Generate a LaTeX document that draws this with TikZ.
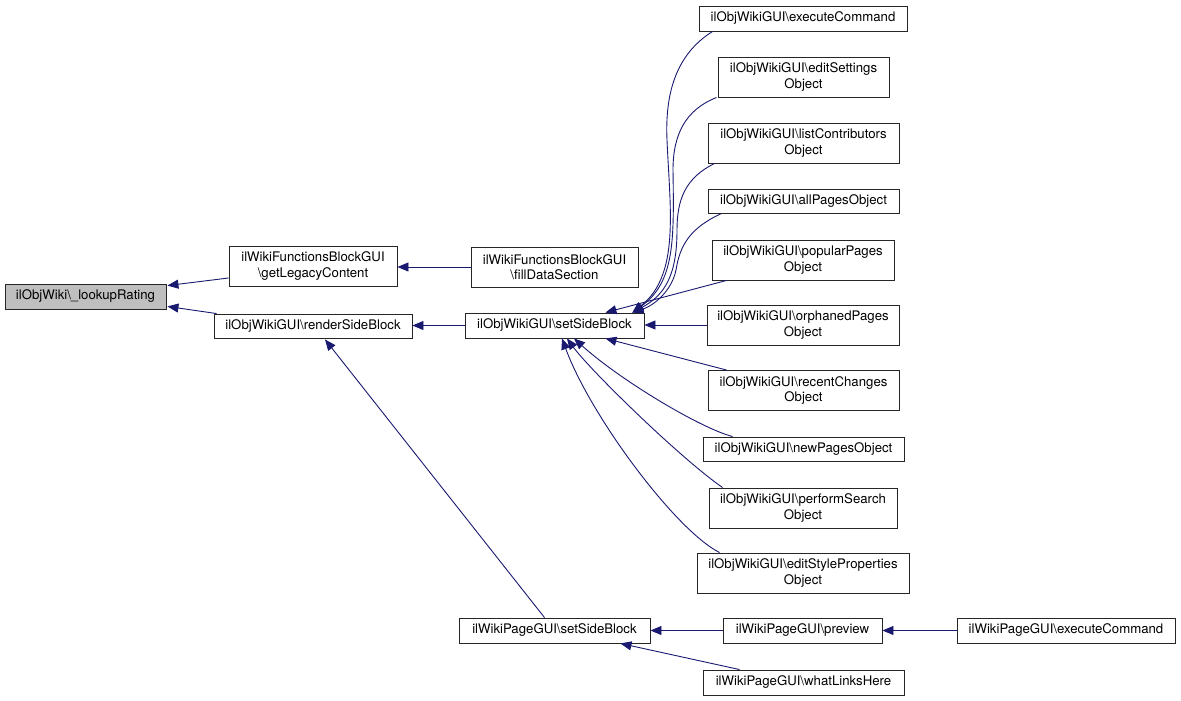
\documentclass[tikz,border=0pt]{standalone}
\usepackage{fontspec}
\setmainfont{TeX Gyre Heros}
\usetikzlibrary{arrows.meta,calc}
\definecolor{edgeblue}{HTML}{191970}
\definecolor{hilite}{HTML}{BFBFBF}
\tikzset{
  box/.style={draw=black!85, line width=0.9pt, fill=white, inner sep=0pt, align=center,
    font=\fontsize{13.2}{15.5}\selectfont},
  cur/.style={box, fill=hilite},
  call/.style={draw=edgeblue, line width=0.9pt, -{Triangle[length=11pt,width=9pt]}},
}
\newcommand{\bs}{\textbackslash}
\begin{document}
\begin{tikzpicture}[x=1pt,y=-1pt]
\useasboundingbox (0,0) rectangle (1181,701);
% nodes
\node[cur, minimum width=161, minimum height=25] (lookup) at (85.5,296.5) {ilObjWiki\bs\_lookupRating};
\node[box, minimum width=168, minimum height=40] (legacy) at (313,266) {ilWikiFunctionsBlockGUI\\\bs getLegacyContent};
\node[box, minimum width=198, minimum height=24] (render) at (313,326) {ilObjWikiGUI\bs renderSideBlock};
\node[box, minimum width=167, minimum height=40] (filldata) at (554.5,267) {ilWikiFunctionsBlockGUI\\\bs fillDataSection};
\node[box, minimum width=179, minimum height=25] (setside) at (554.5,325.5) {ilObjWikiGUI\bs setSideBlock};
\node[box, minimum width=208, minimum height=25] (oexec) at (803,18.5) {ilObjWikiGUI\bs executeCommand};
\node[box, minimum width=171, minimum height=40] (editset) at (803.5,77) {ilObjWikiGUI\bs editSettings\\Object};
\node[box, minimum width=191, minimum height=40] (listcon) at (803.5,143) {ilObjWikiGUI\bs listContributors\\Object};
\node[box, minimum width=191, minimum height=24] (allpages) at (803.5,201) {ilObjWikiGUI\bs allPagesObject};
\node[box, minimum width=182, minimum height=40] (popular) at (803,260) {ilObjWikiGUI\bs popularPages\\Object};
\node[box, minimum width=192, minimum height=40] (orphan) at (803,325) {ilObjWikiGUI\bs orphanedPages\\Object};
\node[box, minimum width=191, minimum height=40] (recent) at (803.5,390.5) {ilObjWikiGUI\bs recentChanges\\Object};
\node[box, minimum width=201, minimum height=24] (newpages) at (803.5,449) {ilObjWikiGUI\bs newPagesObject};
\node[box, minimum width=188, minimum height=40] (perform) at (803,508) {ilObjWikiGUI\bs performSearch\\Object};
\node[box, minimum width=212, minimum height=40] (editstyle) at (803,573) {ilObjWikiGUI\bs editStyleProperties\\Object};
\node[box, minimum width=191, minimum height=25] (pside) at (554.5,630.5) {ilWikiPageGUI\bs setSideBlock};
\node[box, minimum width=159, minimum height=25] (preview) at (802.5,630.5) {ilWikiPageGUI\bs preview};
\node[box, minimum width=218, minimum height=25] (pexec) at (1066,630.5) {ilWikiPageGUI\bs executeCommand};
\node[box, minimum width=201, minimum height=25] (whatlinks) at (803.5,682.5) {ilWikiPageGUI\bs whatLinksHere};
% edges
\draw[call] ($(legacy.west)+(0,12)$) -- ($(lookup.north east)+(1,2)$);
\draw[call] ($(render.north west)+(3,0)$) -- ($(lookup.south east)+(1,-3)$);
\draw[call] (filldata.west) -- (filldata.west -| legacy.east);
\draw[call] (setside.west) -- (setside.west -| render.east);
\draw[call] ($(pside.north)+(-10,0)$) -- ($(render.south)+(12,1)$);
% curves into setSideBlock top
\coordinate (tipA) at ($(setside.north east)+(-12,0)$);
\draw[call] ($(oexec.south west)+(14,0)$) .. controls (675,55) and (665,95) .. (667,140)
   .. controls (670,210) and (680,275) .. (tipA);
\draw[call] ($(editset.south west)+(-1,0)$) .. controls (685,110) and (673,135) .. (673,170)
   .. controls (674,240) and (675,282) .. (tipA);
\draw[call] ($(listcon.south west)+(7,0)$) .. controls (685,178) and (677,200) .. (677,230)
   .. controls (677,275) and (665,295) .. (tipA);
\draw[call] ($(allpages.south west)+(14,0)$) .. controls (690,228) and (680,245) .. (676,270)
   .. controls (672,290) and (655,305) .. (tipA);
\draw[call] ($(popular.south west)+(15,0)$) -- ($(setside.north east)+(-39,0)$);
\draw[call] (orphan.west) -- (orphan.west -| setside.east);
\draw[call] ($(recent.north west)+(19,0)$) -- ($(setside.south east)+(-39,0)$);
\draw[call] ($(newpages.north west)+(30,0)$) .. controls (700,428) and (620,380) .. ($(setside.south)+(19.5,0)$);
\draw[call] ($(perform.north west)+(14,0)$) .. controls (680,458) and (590,370) .. ($(setside.south)+(12.5,0)$);
\draw[call] ($(editstyle.north west)+(23,0)$) .. controls (675,530) and (590,415) .. ($(setside.south)+(7.5,0)$);
% bottom
\draw[call] (preview.west) -- (pside.east);
\draw[call] (pexec.west) -- (preview.east);
\draw[call] ($(whatlinks.north west)+(37,0)$) -- ($(pside.south east)+(-30,0)$);
\end{tikzpicture}
\end{document}
